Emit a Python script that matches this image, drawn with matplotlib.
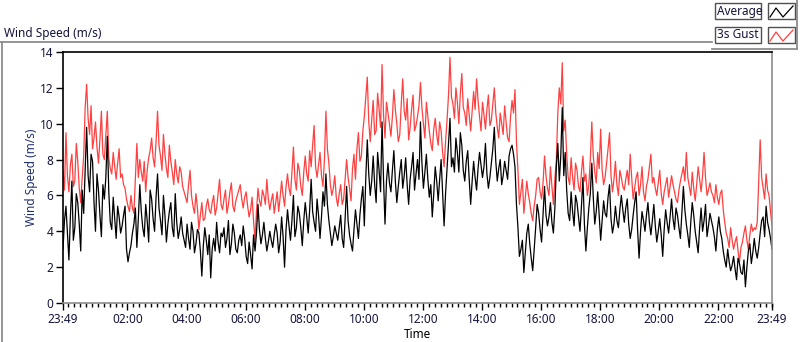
import numpy as np
import matplotlib.pyplot as plt
from matplotlib.patches import Rectangle
from matplotlib.lines import Line2D

plt.rcParams['font.family'] = ['Noto Sans', 'DejaVu Sans']

# wind speed (m/s), one reading every 3 min starting 23:49, one row per hour
average = [
    3.0, 4.6, 5.4, 3.9, 2.4, 4.8, 6.8, 3.5, 4.2, 6.1, 5.6, 4.4, 2.9, 6.3, 5.0, 7.4, 9.8, 7.1, 6.2, 8.3,
    7.9, 5.6, 4.0, 7.2, 6.3, 4.9, 3.7, 6.6, 5.8, 7.0, 9.3, 6.2, 4.5, 4.1, 5.9, 4.7, 3.6, 5.4, 4.8, 3.9,
    4.3, 4.9, 5.4, 3.0, 2.3, 2.8, 3.2, 3.9, 4.4, 5.3, 3.1, 4.7, 6.6, 5.1, 4.2, 3.7, 5.5, 4.6, 3.4, 6.3,
    5.8, 4.7, 4.0, 5.9, 7.2, 5.3, 4.6, 3.8, 6.0, 4.9, 3.4, 4.4, 5.1, 5.6, 4.2, 3.7, 6.1, 4.5, 3.6, 4.1,
    4.8, 3.9, 3.5, 3.1, 4.4, 3.6, 3.0, 4.5, 4.0, 2.8, 3.3, 4.1, 3.9, 2.9, 1.5, 3.2, 4.2, 3.5, 2.7, 3.8,
    1.4, 3.0, 3.6, 2.9, 4.5, 3.4, 2.8, 3.9, 3.7, 4.2, 3.1, 3.6, 4.6, 2.7, 3.3, 4.4, 3.9, 3.0, 2.8, 3.5,
    3.8, 3.2, 4.3, 3.6, 2.6, 2.2, 3.4, 2.7, 1.9, 3.8, 2.9, 3.9, 5.5, 4.1, 3.3, 3.8, 4.5, 3.6, 2.9, 3.4,
    4.0, 3.5, 3.1, 3.8, 4.4, 3.9, 2.8, 3.4, 4.8, 3.7, 2.0, 4.1, 5.2, 4.3, 3.5, 4.6, 6.0, 3.7, 4.2, 5.4,
    5.0, 4.2, 3.2, 4.6, 5.6, 4.8, 3.9, 5.2, 6.9, 5.1, 4.5, 4.0, 5.8, 4.9, 3.6, 4.8, 6.2, 5.4, 7.2, 5.5,
    4.6, 3.9, 3.2, 3.7, 4.3, 3.9, 3.5, 4.2, 4.9, 3.6, 3.1, 4.7, 6.5, 4.6, 3.8, 3.3, 2.9, 4.1, 5.2, 4.4,
    3.6, 4.9, 5.8, 6.5, 4.3, 7.0, 9.1, 7.2, 6.0, 6.8, 8.2, 6.6, 5.6, 8.4, 7.4, 6.2, 10.1, 6.9, 4.4, 6.8,
    7.8, 6.7, 6.2, 7.4, 8.5, 6.8, 5.6, 6.5, 7.3, 8.0, 6.4, 7.1, 8.1, 6.6, 5.5, 6.9, 7.6, 8.4, 6.3, 7.2,
    8.0, 6.9, 10.1, 7.8, 6.4, 7.3, 8.3, 6.9, 5.9, 6.6, 4.8, 6.1, 7.6, 6.8, 5.7, 6.9, 8.0, 6.2, 4.3, 6.1,
    7.5, 9.0, 10.3, 7.6, 8.1, 7.3, 9.2, 8.4, 7.3, 9.5, 8.8, 7.4, 6.8, 7.9, 8.5, 6.9, 5.5, 6.8, 7.9, 7.0,
    6.3, 7.5, 8.4, 7.7, 7.0, 7.6, 8.9, 7.2, 6.4, 7.0, 7.8, 8.6, 9.8, 7.9, 6.8, 7.5, 8.0, 6.6, 7.1, 7.9,
    7.4, 6.9, 8.2, 8.6, 8.8, 8.3, 7.6, 5.5, 4.2, 2.6, 3.0, 3.5, 1.7, 2.8, 3.9, 4.4, 3.3, 2.5, 1.8, 3.0,
    4.2, 5.5, 5.0, 4.1, 3.4, 5.0, 6.5, 4.9, 4.3, 4.8, 5.6, 4.5, 3.9, 5.3, 7.6, 8.9, 6.8, 8.2, 10.9, 7.1,
    8.4, 6.3, 5.0, 4.6, 6.2, 5.1, 4.3, 6.0, 5.6, 4.8, 4.0, 5.4, 7.0, 4.4, 2.9, 4.2, 5.3, 6.1, 7.8, 5.9,
    4.4, 5.1, 6.2, 4.9, 3.5, 4.6, 5.7, 5.0, 4.8, 5.9, 6.6, 4.7, 3.9, 4.4, 5.4, 4.6, 4.2, 5.2, 6.0, 5.2,
    4.5, 5.3, 5.8, 4.4, 3.6, 4.1, 4.9, 5.6, 6.2, 4.1, 2.5, 4.0, 5.1, 4.6, 4.0, 4.9, 5.6, 4.5, 3.8, 4.6,
    5.5, 4.3, 3.4, 4.0, 4.7, 3.8, 2.6, 4.1, 5.2, 4.5, 3.9, 4.8, 5.8, 4.7, 4.1, 5.3, 4.9, 4.2, 3.6, 5.1,
    6.5, 5.2, 4.4, 3.8, 3.1, 4.5, 5.6, 4.9, 4.0, 3.4, 2.8, 4.2, 5.3, 4.0, 4.6, 5.5, 3.7, 4.3, 5.0, 4.6,
    4.2, 3.7, 2.9, 4.1, 4.8, 4.0, 3.6, 2.9, 2.4, 2.0, 3.0, 2.3, 1.8, 2.1, 2.6, 1.9, 1.3, 2.5, 2.2, 1.7,
    1.6, 2.4, 0.9, 2.0, 2.9, 3.3, 2.2, 2.8, 3.6, 2.9, 2.5, 3.1, 3.9, 4.6, 4.8, 3.7, 5.4, 4.5, 4.1, 3.6,
    3.0,
]

gust = [
    7.4, 6.3, 9.5, 7.1, 6.2, 7.7, 8.3, 6.5, 6.8, 8.9, 7.9, 6.4, 5.6, 7.0, 8.2, 10.9, 12.2, 10.3, 9.4, 11.0,
    8.6, 9.2, 10.1, 8.7, 7.8, 9.1, 10.7, 8.3, 8.0, 9.4, 10.7, 8.1, 7.5, 7.2, 8.4, 7.6, 6.9, 7.8, 8.6, 7.0,
    7.2, 6.6, 6.4, 5.8, 5.4, 5.1, 6.0, 5.3, 5.0, 6.9, 8.9, 7.0, 8.0, 7.3, 6.8, 7.9, 6.2, 7.4, 8.1, 8.5,
    9.2, 8.1, 7.6, 9.0, 10.7, 8.8, 8.2, 7.4, 9.4, 8.3, 7.5, 7.0, 8.8, 7.9, 7.3, 6.6, 8.0, 7.2, 6.7, 7.6,
    7.3, 6.5, 6.2, 5.9, 5.6, 6.6, 7.4, 6.0, 5.4, 5.0, 6.1, 5.3, 4.1, 4.9, 5.6, 4.6, 4.7, 5.4, 5.8, 5.2,
    5.0, 5.6, 6.0, 4.9, 5.3, 6.1, 6.9, 5.5, 5.2, 5.8, 6.3, 5.0, 5.5, 6.2, 6.7, 5.4, 5.1, 5.7, 6.0, 6.3,
    6.6, 5.8, 5.3, 5.9, 6.2, 5.4, 4.8, 5.2, 5.9, 4.6, 3.5, 5.1, 6.4, 5.7, 5.4, 6.3, 6.0, 5.5, 6.9, 5.8,
    5.2, 5.7, 6.1, 5.0, 5.6, 6.2, 5.1, 5.9, 6.8, 6.0, 5.4, 6.5, 7.2, 6.4, 6.0, 7.3, 8.7, 6.9, 6.3, 7.8,
    7.4, 6.5, 6.0, 7.3, 8.2, 7.2, 6.8, 8.5, 7.6, 8.8, 9.9, 7.6, 7.0, 7.7, 8.4, 7.1, 6.5, 8.0, 10.7, 8.6,
    7.8, 6.6, 6.0, 6.4, 7.1, 5.9, 5.4, 6.1, 6.6, 5.5, 5.8, 6.9, 8.0, 7.0, 6.4, 5.7, 7.5, 8.3, 6.9, 8.6,
    9.5, 7.9, 8.2, 9.6, 10.4, 11.5, 12.6, 10.1, 9.0, 10.2, 11.3, 9.4, 9.6, 11.7, 10.8, 9.8, 13.3, 10.5, 9.2, 11.2,
    10.6, 10.0, 9.3, 10.4, 11.9, 10.8, 10.0, 9.0, 9.4, 11.1, 12.5, 10.7, 10.2, 11.4, 9.1, 9.8, 10.8, 11.6, 9.6, 9.9,
    10.4, 11.0, 12.3, 10.9, 10.0, 9.2, 11.2, 10.4, 9.6, 8.9, 8.5, 9.7, 10.3, 9.4, 8.8, 10.1, 9.6, 8.4, 7.6, 9.0,
    10.2, 11.6, 13.7, 11.5, 11.1, 10.3, 12.0, 11.2, 10.0, 11.7, 12.8, 10.9, 10.6, 9.9, 11.4, 10.5, 9.6, 10.7, 11.8, 10.8,
    12.5, 11.3, 10.4, 9.6, 11.2, 10.5, 9.7, 10.8, 11.6, 9.9, 10.2, 11.1, 12.0, 10.6, 9.8, 9.2, 10.6, 10.0, 9.4, 11.0,
    10.1, 9.2, 9.0, 10.4, 11.3, 10.6, 11.9, 9.0, 7.4, 5.5, 6.2, 6.9, 5.0, 5.9, 6.8, 6.1, 5.6, 5.0, 4.6, 5.4,
    6.0, 6.9, 7.0, 6.2, 5.8, 6.7, 8.2, 7.1, 6.4, 6.0, 7.6, 6.5, 5.5, 6.9, 8.0, 10.6, 12.0, 11.1, 13.4, 9.6,
    10.2, 8.3, 7.0, 6.6, 8.1, 7.0, 6.3, 7.8, 7.4, 6.5, 6.2, 7.3, 8.2, 6.8, 7.2, 6.0, 6.6, 8.0, 10.1, 8.2,
    7.3, 6.7, 8.4, 7.5, 9.7, 7.4, 6.6, 7.0, 7.8, 8.6, 9.5, 7.1, 6.2, 6.9, 7.9, 6.6, 6.0, 7.4, 7.0, 6.5,
    6.3, 6.9, 7.4, 6.6, 8.3, 7.0, 5.8, 6.4, 7.0, 7.3, 6.0, 6.6, 7.6, 6.2, 5.7, 6.5, 6.9, 7.6, 8.3, 6.7,
    7.0, 6.4, 6.0, 6.7, 7.4, 6.1, 5.5, 6.2, 6.6, 7.0, 5.9, 6.5, 7.1, 6.6, 6.2, 5.8, 5.6, 6.3, 6.8, 7.2,
    7.6, 6.8, 8.4, 7.0, 6.5, 6.0, 7.3, 6.4, 5.7, 6.6, 7.6, 6.9, 6.2, 7.1, 8.4, 7.0, 6.0, 6.3, 6.7, 6.2,
    6.0, 5.6, 6.6, 5.9, 5.5, 6.1, 6.3, 5.2, 4.5, 3.9, 3.6, 3.1, 4.2, 3.5, 3.0, 3.4, 3.7, 2.9, 2.3, 3.1,
    3.4, 3.9, 4.3, 3.5, 3.0, 3.8, 4.4, 4.0, 4.2, 4.1, 4.5, 6.8, 9.1, 7.0, 6.4, 5.8, 7.2, 6.3, 6.0, 5.1,
    4.3,
]

# hours since 23:49
hours = np.arange(len(average)) * 0.05

tick_labels = ['23:49', '02:00', '04:00', '06:00', '08:00', '10:00', '12:00',
               '14:00', '16:00', '18:00', '20:00', '22:00', '23:49']
major = [0] + [11/60 + 2*k for k in range(1, 12)] + [24]
minor = [11/60 + 0.2*k for k in range(120)]

W, H = 800, 342
def fx(x):
    return x / W
def fy(y):
    return 1 - y / H

txt = '#14143c'
gray = '#8c8c8c'

fig = plt.figure(figsize=(8, 3.42), dpi=100)
ax = fig.add_axes([fx(63), fy(303), (772 - 63) / W, (303 - 52) / H])

ax.plot(hours, gust, color='#ff4040', lw=0.9)
ax.plot(hours, average, color='black', lw=0.9)

ax.set_xlim(0, 24)
ax.set_ylim(0, 14)
ax.set_yticks(range(0, 15, 2))
ax.set_xticks(major)
ax.set_xticklabels(tick_labels)
ax.set_xticks(minor, minor=True)

for s in ['left', 'top']:
    ax.spines[s].set_color('black')
    ax.spines[s].set_linewidth(1.2)
for s in ['right', 'bottom']:
    ax.spines[s].set_color(gray)
    ax.spines[s].set_linewidth(1.2)

ax.tick_params(axis='y', length=5, width=1, color='black', labelsize=8.5,
               labelcolor=txt, pad=2)
ax.tick_params(axis='x', which='major', length=5, width=1, color='black',
               labelsize=8.5, labelcolor=txt, pad=2)
ax.tick_params(axis='x', which='minor', length=3, width=1, color='black')

fig.text(fx(31), fy(177), 'Wind Speed (m/s)', rotation=90, ha='center',
         va='center', fontsize=8.5, color='#1f2f6f')
fig.text(fx(417), fy(334), 'Time', ha='center', va='center', fontsize=8.5,
         color='black')
fig.text(fx(4), fy(33), 'Wind Speed (m/s)', ha='left', va='center',
         fontsize=8.5, color=txt)

# outer frame lines
fig.add_artist(Line2D([0, fx(712)], [fy(42), fy(42)], color=gray, lw=1.3))
fig.add_artist(Line2D([fx(1.5), fx(1.5)], [0, fy(42)], color=gray, lw=1.3))
fig.add_artist(Line2D([fx(712), fx(797)], [fy(49), fy(49)], color=gray, lw=1.3))
fig.add_artist(Line2D([fx(797), fx(797)], [fy(49), 1], color=gray, lw=1.3))

# legend
for name, col, y0 in [('Average', 'black', 3), ('3s Gust', '#ff4040', 27)]:
    fig.add_artist(Rectangle((fx(715), fy(y0 + 16)), 46 / W, 16 / H,
                             facecolor='white', edgecolor='#505050', lw=1))
    fig.text(fx(717), fy(y0 + 8), name, ha='left', va='center',
             fontsize=8.5, color=txt)
    fig.add_artist(Rectangle((fx(768), fy(y0 + 16)), 27 / W, 16 / H,
                             facecolor='white', edgecolor='#505050', lw=1))
    zx = [770, 776, 783, 793]
    zy = [y0 + 14, y0 + 5, y0 + 14, y0 + 3]
    fig.add_artist(Line2D([fx(v) for v in zx], [fy(v) for v in zy],
                          color=col, lw=0.9))

fig.savefig('out.png', dpi=100)
